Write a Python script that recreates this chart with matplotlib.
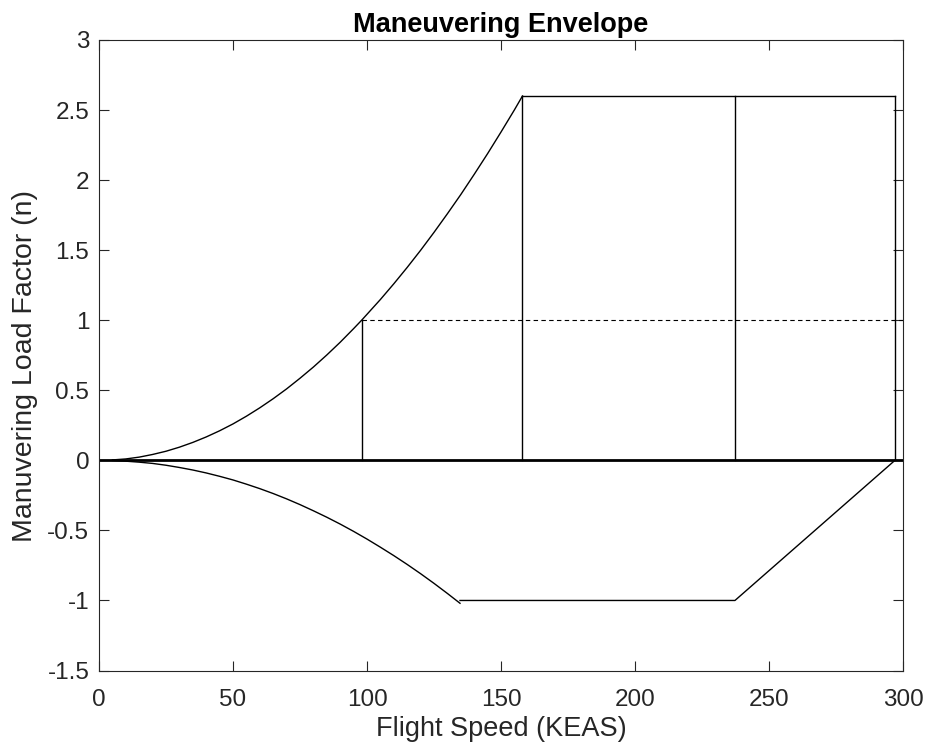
import matplotlib
matplotlib.use("Agg")
import matplotlib.pyplot as plt

# ------------------------------------------------------------
# data
# ------------------------------------------------------------
# positive stall curve
pos_speed = [5, 10, 15, 20, 25, 30, 35, 40, 45, 50, 55, 60, 65, 70, 75, 80, 85,
             90, 95, 98, 105, 110, 115, 120, 125, 130, 135, 140, 145, 150, 155, 158]
pos_n = [0.003, 0.010, 0.023, 0.042, 0.065, 0.094, 0.128, 0.167, 0.211, 0.260,
         0.315, 0.375, 0.440, 0.510, 0.586, 0.666, 0.752, 0.843, 0.940, 1.0,
         1.148, 1.260, 1.377, 1.499, 1.627, 1.760, 1.897, 2.041, 2.189, 2.343,
         2.501, 2.600]

# negative stall curve
neg_speed = [5, 10, 15, 20, 25, 30, 35, 40, 45, 50, 55, 60, 65, 70, 75, 80, 85,
             90, 95, 100, 105, 110, 115, 120, 125, 130, 134.7]
neg_n = [-0.001, -0.006, -0.013, -0.022, -0.035, -0.051, -0.069, -0.090, -0.114,
         -0.140, -0.170, -0.202, -0.237, -0.275, -0.316, -0.360, -0.406, -0.455,
         -0.507, -0.562, -0.620, -0.680, -0.743, -0.809, -0.878, -0.950, -1.02]

# negative limit and return to zero
neg_limit_speed = [134.7, 237.3, 297.0]
neg_limit_n = [-1.0, -1.0, 0.0]

# positive limit
pos_limit_speed = [158.0, 297.0]
pos_limit_n = [2.6, 2.6]

# vertical speed markers (speed, top load factor)
marker_speed = [98.0, 158.0, 237.3, 297.0]
marker_top = [1.0, 2.6, 2.6, 2.6]

# reference lines
zero_line_speed = [0, 300]
one_g_speed = [98.0, 300]

x_ticks = [0, 50, 100, 150, 200, 250, 300]
y_ticks = [-1.5, -1, -0.5, 0, 0.5, 1, 1.5, 2, 2.5, 3]
y_tick_labels = ["-1.5", "-1", "-0.5", "0", "0.5", "1", "1.5", "2", "2.5", "3"]


# ------------------------------------------------------------
# plot
# ------------------------------------------------------------
plt.rcParams["font.family"] = ["Liberation Sans", "DejaVu Sans"]

fig = plt.figure(figsize=(9.29, 7.54), dpi=100)
ax = fig.add_axes([0.1066, 0.1107, 0.8654, 0.8363])

lw = 1.0
col = "black"

ax.plot(pos_speed, pos_n, color=col, linewidth=lw)
ax.plot(neg_speed, neg_n, color=col, linewidth=lw)
ax.plot(neg_limit_speed, neg_limit_n, color=col, linewidth=lw)
ax.plot(pos_limit_speed, pos_limit_n, color=col, linewidth=lw)

for v, top in zip(marker_speed, marker_top):
    ax.plot([v, v], [0, top], color=col, linewidth=lw)

ax.plot(zero_line_speed, [0, 0], color=col, linewidth=2.0)
ax.plot(one_g_speed, [1, 1], color=col, linewidth=0.8, linestyle=(0, (4, 3)))

ax.set_xlim(0, 300)
ax.set_ylim(-1.5, 3)
ax.set_xticks(x_ticks)
ax.set_yticks(y_ticks)
ax.set_yticklabels(y_tick_labels)

ax.tick_params(direction="in", length=7, width=0.8, top=True, right=True,
               labelsize=17.5, colors="#262626")
ax.tick_params(axis="x", pad=13)
ax.tick_params(axis="y", pad=7)
for s in ax.spines.values():
    s.set_color("#262626")
    s.set_linewidth(0.8)

ax.set_xlabel("Flight Speed (KEAS)", fontsize=19.5, color="#262626", labelpad=4)
ax.set_ylabel("Manuvering Load Factor (n)", fontsize=20.5, color="#262626")
ax.yaxis.set_label_coords(-0.0765, 0.483)
ax.set_title("Maneuvering Envelope", fontsize=19.5, fontweight="bold", pad=6)

fig.savefig("out.png", dpi=100)
